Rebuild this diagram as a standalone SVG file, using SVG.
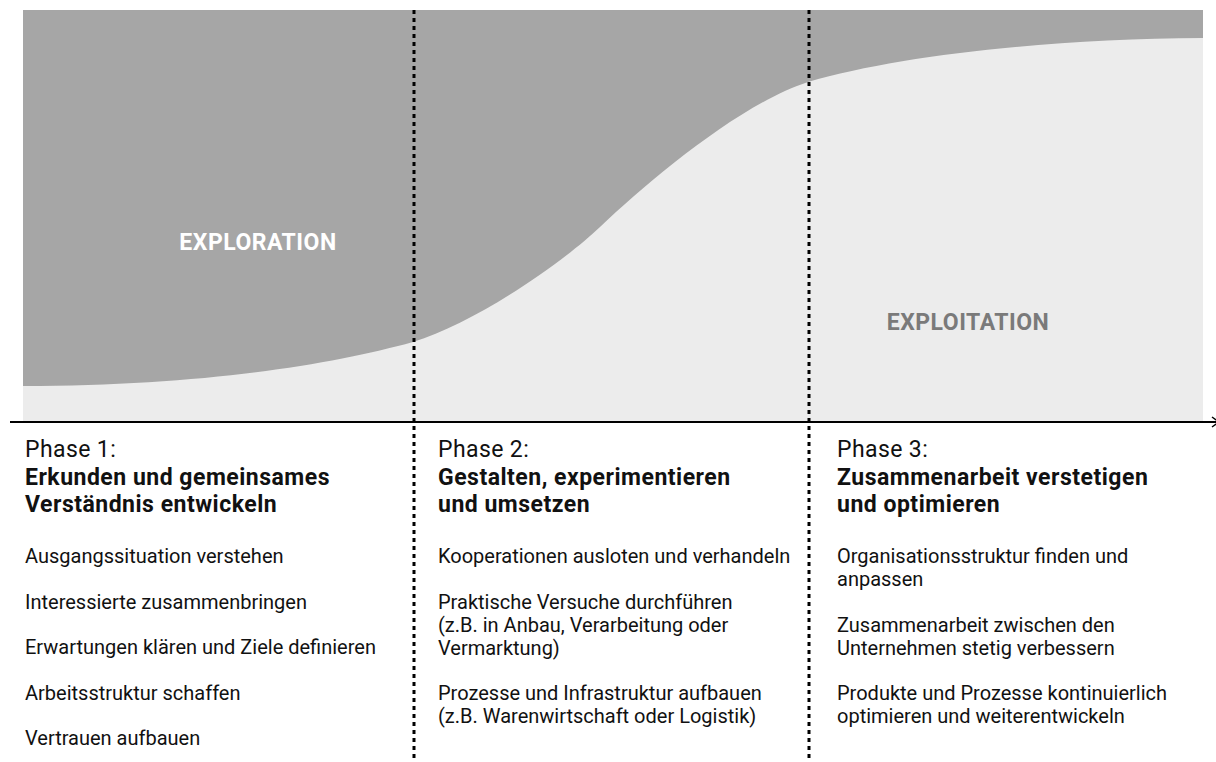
<svg xmlns="http://www.w3.org/2000/svg" width="1216" height="762" viewBox="0 0 1216 762">
<style>
.t{font-family:Roboto,"Liberation Sans",sans-serif;fill:#111}
.ph{font-size:23px;letter-spacing:0.4px}
.ti{font-size:23px;font-weight:bold;letter-spacing:0.5px}
.bd{font-size:20px}
.lbl{font-family:Roboto,"Liberation Sans",sans-serif;font-size:23px;font-weight:bold;letter-spacing:0.5px}
.dot{stroke:#000;stroke-width:3;stroke-dasharray:4 4;fill:none}
</style>
<defs>
<marker id="arr" markerWidth="10" markerHeight="12" refX="8" refY="6" orient="auto" markerUnits="userSpaceOnUse">
<path d="M1,1 L8,6 L1,11" fill="none" stroke="#000" stroke-width="1.5"/>
</marker>
</defs>
<rect width="1216" height="762" fill="#fff"/>
<g id="chart">
<rect x="23" y="10" width="1180" height="412" fill="#ececec"/>
<path d="M23,10 L1203,10 L1203,38 C1050,39 900,55 808,82 C740,104 650,180 600,227 C560,265 473,324 413,342 C330,365 200,386 23,386 Z" fill="#a6a6a6"/>
<text class="lbl" x="258" y="249.5" text-anchor="middle" fill="#fff">EXPLORATION</text>
<text class="lbl" x="968" y="330" text-anchor="middle" fill="#7a7a7a">EXPLOITATION</text>
</g>
<g id="connectors">
<line x1="10" y1="422" x2="1219" y2="422" stroke="#000" stroke-width="2" marker-end="url(#arr)"/>
<line class="dot" x1="414" y1="10" x2="414" y2="762"/>
<line class="dot" x1="809" y1="10" x2="809" y2="762"/>
</g>
<g id="phase1">
<text class="t ph" x="25" y="457">Phase 1:</text>
<text class="t ti" x="25" y="485">Erkunden und gemeinsames</text>
<text class="t ti" x="25" y="512">Verständnis entwickeln</text>
<text class="t bd" x="25" y="563">Ausgangssituation verstehen</text>
<text class="t bd" x="25" y="608.5">Interessierte zusammenbringen</text>
<text class="t bd" x="25" y="654">Erwartungen klären und Ziele definieren</text>
<text class="t bd" x="25" y="699.5">Arbeitsstruktur schaffen</text>
<text class="t bd" x="25" y="745">Vertrauen aufbauen</text>
</g>
<g id="phase2">
<text class="t ph" x="438" y="457">Phase 2:</text>
<text class="t ti" x="438" y="485">Gestalten, experimentieren</text>
<text class="t ti" x="438" y="512">und umsetzen</text>
<text class="t bd" x="438" y="563">Kooperationen ausloten und verhandeln</text>
<text class="t bd" x="438" y="608.5">Praktische Versuche durchführen</text>
<text class="t bd" x="438" y="631.5">(z.B. in Anbau, Verarbeitung oder</text>
<text class="t bd" x="438" y="654.5">Vermarktung)</text>
<text class="t bd" x="438" y="700">Prozesse und Infrastruktur aufbauen</text>
<text class="t bd" x="438" y="723">(z.B. Warenwirtschaft oder Logistik)</text>
</g>
<g id="phase3">
<text class="t ph" x="837" y="457">Phase 3:</text>
<text class="t ti" x="837" y="485">Zusammenarbeit verstetigen</text>
<text class="t ti" x="837" y="512">und optimieren</text>
<text class="t bd" x="837" y="563">Organisationsstruktur finden und</text>
<text class="t bd" x="837" y="586">anpassen</text>
<text class="t bd" x="837" y="631.5">Zusammenarbeit zwischen den</text>
<text class="t bd" x="837" y="654.5">Unternehmen stetig verbessern</text>
<text class="t bd" x="837" y="700">Produkte und Prozesse kontinuierlich</text>
<text class="t bd" x="837" y="723">optimieren und weiterentwickeln</text>
</g>
</svg>
